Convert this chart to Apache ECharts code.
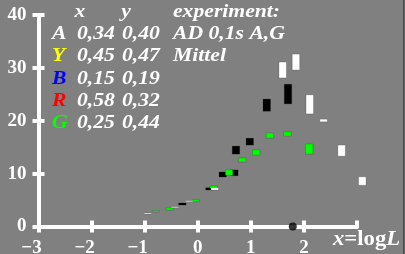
<!DOCTYPE html>
<html>
<head>
<meta charset="utf-8">
<script src="https://cdn.jsdelivr.net/npm/echarts/dist/echarts.min.js"></script>
<style>
html, body { margin: 0; padding: 0; background: #808080; }
#myChart { width: 405px; height: 254px; }
</style>
</head>
<body>
<div id="myChart"></div>
<script>
// 数据: [x = logL, y 下限, y 上限]
const blackBars = [
  [-0.29, 4.06, 4.44], [0.22, 6.9, 7.33], [0.47, 9.36, 10.3], [0.69, 9.6, 10.7],
  [0.72, 13.7, 15.2], [0.98, 15.4, 16.7], [1.30, 21.8, 24.1], [1.70, 23.2, 26.9]
];
const greenBars = [
  [-0.79, 2.74, 2.99], [-0.53, 3.1, 3.5], [-0.04, 4.7, 5.07], [0.30, 7.2, 7.66],
  [0.59, 9.7, 10.7], [0.84, 12.2, 12.95], [1.10, 13.5, 14.5], [1.36, 16.7, 17.7],
  [1.69, 17.1, 17.9], [2.10, 13.7, 15.6]
];
const whiteBars = [
  [-0.94, 2.36, 2.55], [-0.43, 3.55, 3.74], [-0.16, 4.69, 4.88], [0.32, 6.9, 7.33],
  [1.60, 28.1, 31.1], [1.85, 29.6, 32.6], [2.11, 21.3, 24.9], [2.37, 19.8, 20.3],
  [2.71, 13.3, 15.4], [3.10, 7.8, 9.4]
];
const dotPoint = [[1.79, 0]];

const xTicks = [-3, -2, -1, 0, 1, 2];
const yTicks = [0, 10, 20, 30, 40];

// 图例: 字母, 颜色, x, y
const legendRows = [
  ['A', '#ffffff', '0,34', '0,40'],
  ['Y', '#ffff00', '0,45', '0,47'],
  ['B', '#0000ff', '0,15', '0,19'],
  ['R', '#ff0000', '0,58', '0,32'],
  ['G', '#00ff00', '0,25', '0,44']
];
const expLines = ['experiment:', 'AD 0,1s A,G', 'Mittel'];

let myChart = echarts.init(document.getElementById("myChart"));

const halfW = 0.07; // 矩形半宽
function barItem(color) {
  return function (params, api) {
    const x = api.value(0);
    const p1 = api.coord([x - halfW, api.value(2)]);
    const p2 = api.coord([x + halfW, api.value(1)]);
    return {
      type: "rect",
      shape: {
        x: p1[0],
        y: p1[1],
        width: p2[0] - p1[0],
        height: Math.max(p2[1] - p1[1], 1)
      },
      style: { fill: color, stroke: "rgba(0,0,0,0.35)", lineWidth: 0.5 }
    };
  };
}

const font = "'Liberation Serif', 'Times New Roman', serif";
const tf = "bold italic 19px " + font;
const sx = 1.14; // 文字横向拉伸
const graphics = [];
const rowY = [34, 56.5, 79, 101, 123];
function addText(t, x, y, color, align) {
  graphics.push({
    type: "text", x: x, y: y, scaleX: sx,
    style: { text: t, font: tf, fill: color, textAlign: align || "left", textVerticalAlign: "middle" }
  });
}
addText("x", 80, 12, "#fff", "center");
addText("y", 126, 12, "#fff", "center");
legendRows.forEach(function (r, i) {
  addText(r[0], 52, rowY[i], r[1]);
  addText(r[2], 77, rowY[i], "#fff");
  addText(r[3], 122, rowY[i], "#fff");
});
expLines.forEach(function (t, i) {
  addText(t, 173, i === 0 ? 12 : rowY[i - 1], "#fff");
});
// 横轴标题
graphics.push({
  type: "text", x: 333, y: 240, scaleX: 1.08,
  style: {
    text: "{i|x}{n|=log}{i|L}",
    textVerticalAlign: "middle",
    fill: "#fff",
    rich: {
      i: { font: "bold italic 21px " + font, fill: "#fff" },
      n: { font: "bold 21px " + font, fill: "#fff" }
    }
  }
});
// 右侧边线
graphics.push({ type: "rect", shape: { x: 403, y: 0, width: 1.5, height: 254 }, style: { fill: "#4a4a4a" } });

const axisCommon = {
  type: "value",
  splitLine: { show: false },
  axisLine: { onZero: false, lineStyle: { color: "#fff", width: 4 } },
  axisTick: { lineStyle: { color: "#fff", width: 4 }, length: 6 }
};

myChart.setOption({
  backgroundColor: "#808080",
  animation: false,
  grid: { left: 38.5, right: 48, top: 15, bottom: 27.5, outerBoundsMode: "none" },
  graphic: graphics,
  xAxis: [
    Object.assign({}, axisCommon, {
      position: "bottom",
      min: -3, max: 3, interval: 1,
      axisLabel: {
        color: "#fff", fontFamily: font, fontWeight: "bold", fontSize: 19, margin: 12,
        showMaxLabel: false,
        formatter: function (v) {
          if (xTicks.indexOf(v) < 0) return "";
          return v < 0 ? "{neg|\u2212" + (-v) + "}" : String(v);
        },
        rich: { neg: { fontFamily: font, fontWeight: "bold", fontSize: 19, color: "#fff", padding: [0, 14, 0, 0] } }
      }
    }),
    Object.assign({}, axisCommon, {
      position: "bottom",
      min: -3, max: 3, interval: 1,
      axisLine: { show: false, onZero: false },
      axisTick: { inside: true, length: 6, lineStyle: { color: "#fff", width: 4 } },
      axisLabel: { show: false }
    })
  ],
  yAxis: [
    Object.assign({}, axisCommon, {
      position: "left",
      min: 0, max: 40, interval: 10,
      axisLabel: {
        color: "#fff", fontFamily: font, fontWeight: "bold", fontSize: 19, margin: 12,
        formatter: function (v) { return yTicks.indexOf(v) < 0 ? "" : String(v); }
      }
    }),
    Object.assign({}, axisCommon, {
      position: "left",
      min: 0, max: 40, interval: 10,
      axisLine: { show: false, onZero: false },
      axisTick: { inside: true, length: 6, lineStyle: { color: "#fff", width: 4 } },
      axisLabel: { show: false }
    })
  ],
  series: [
    { type: "custom", renderItem: barItem("#000000"), data: blackBars, clip: false, encode: { x: 0, y: [1, 2] } },
    { type: "custom", renderItem: barItem("#00ff00"), data: greenBars, clip: false, encode: { x: 0, y: [1, 2] } },
    { type: "custom", renderItem: barItem("#ffffff"), data: whiteBars, clip: false, encode: { x: 0, y: [1, 2] } },
    { type: "scatter", data: dotPoint, symbolSize: 8, itemStyle: { color: "#000" }, clip: false, z: 5 }
  ]
});
</script>
</body>
</html>
